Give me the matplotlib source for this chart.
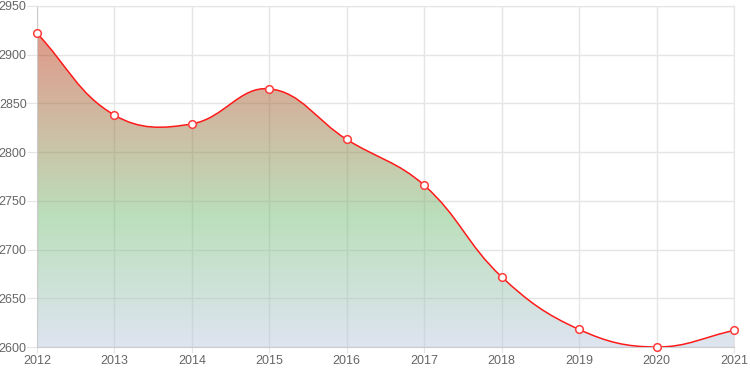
import matplotlib
matplotlib.use("Agg")
import matplotlib.pyplot as plt
import numpy as np
from matplotlib.path import Path
from matplotlib.patches import PathPatch
from matplotlib.colors import LinearSegmentedColormap

# ---- data ------------------------------------------------------------------ #
years = [2012, 2013, 2014, 2015, 2016, 2017, 2018, 2019, 2020, 2021]
values = [2922, 2838, 2829, 2865, 2813, 2766, 2672, 2618, 2600, 2617]
y_ticks = [2600, 2650, 2700, 2750, 2800, 2850, 2900, 2950]

TENSION = 0.4
GRID = "#e5e5e5"
TICK_COL = "#666666"

plt.rcParams["font.family"] = ["Liberation Sans", "DejaVu Sans"]

fig = plt.figure(figsize=(7.5, 3.75), dpi=100)
ax = fig.add_axes([37 / 750, 28 / 375, 697 / 750, 341 / 375])
ax.set_xlim(years[0], years[-1])
ax.set_ylim(y_ticks[0], y_ticks[-1])
ax.set_xticks(years)
ax.set_yticks(y_ticks)
ax.grid(True, color=GRID, lw=1)
ax.set_axisbelow(True)
for s in ax.spines.values():
    s.set_color(GRID)
ax.spines["left"].set_color("#cccccc")
ax.spines["bottom"].set_color("#cccccc")
ax.tick_params(axis="y", length=7, color=GRID, labelcolor=TICK_COL, labelsize=9, pad=0.5)
ax.tick_params(axis="x", length=4, color=GRID, labelcolor=TICK_COL, labelsize=9, pad=1.5)

# ---- chart.js style bezier (tension 0.4) in pixel space ------------------- #
pts = ax.transData.transform(np.column_stack([years, values]))
n = len(pts)
verts, codes = [tuple(pts[0])], [Path.MOVETO]
cps = []
for i in range(n):
    prev = pts[i - 1] if i > 0 else pts[i]
    cur = pts[i]
    nxt = pts[i + 1] if i < n - 1 else pts[i]
    d01 = np.hypot(*(cur - prev))
    d12 = np.hypot(*(nxt - cur))
    tot = d01 + d12
    s01 = d01 / tot if tot else 0
    s12 = d12 / tot if tot else 0
    cps.append((cur - TENSION * s01 * (nxt - prev), cur + TENSION * s12 * (nxt - prev)))
for i in range(1, n):
    verts += [tuple(cps[i - 1][1]), tuple(cps[i][0]), tuple(pts[i])]
    codes += [Path.CURVE4] * 3
line_verts = ax.transData.inverted().transform(np.array(verts))
line_path = Path(line_verts, codes)

fill_verts = list(map(tuple, line_verts)) + [(years[-1], y_ticks[0]), (years[0], y_ticks[0]), (years[0], y_ticks[0])]
fill_codes = codes + [Path.LINETO, Path.LINETO, Path.CLOSEPOLY]
fill_patch = PathPatch(Path(fill_verts, fill_codes), fc="none", ec="none")
ax.add_patch(fill_patch)

cmap = LinearSegmentedColormap.from_list(
    "grad", [(0.0, (0.80, 0.12, 0.02)), (0.62, (0.47, 0.75, 0.47)), (1.0, (0.74, 0.79, 0.88))])
grad = np.linspace(0, 1, 256).reshape(-1, 1)
img = ax.imshow(grad, cmap=cmap, aspect="auto", alpha=0.5,
                extent=[years[0], years[-1], y_ticks[0], y_ticks[-1]], origin="upper", zorder=1)
img.set_clip_path(fill_patch)

ax.add_patch(PathPatch(line_path, fc="none", ec="#ff1a1a", lw=1.1, zorder=3))
ax.plot(years, values, "o", ms=5.5, mfc="white", mec="#ff3b3b", mew=1.1, zorder=4, clip_on=False)

ax.set_xlim(years[0], years[-1])
ax.set_ylim(y_ticks[0], y_ticks[-1])
fig.savefig("out.png", dpi=100)
